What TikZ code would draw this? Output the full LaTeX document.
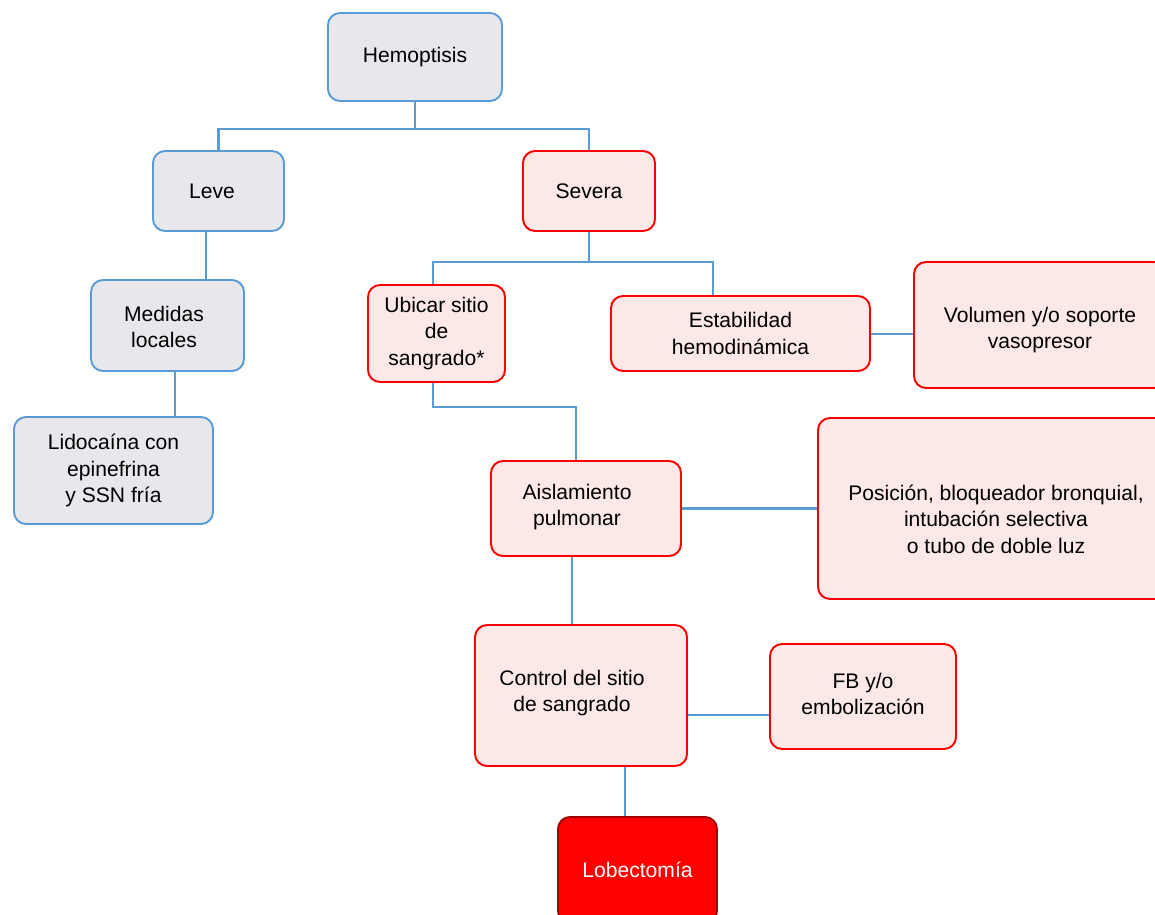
\documentclass[tikz,border=0pt]{standalone}
\usepackage{fontspec}
\setmainfont{Liberation Sans}
\definecolor{bline}{HTML}{5B9BD5}
\definecolor{gfill}{HTML}{E7E8EC}
\definecolor{rline}{HTML}{FF0000}
\definecolor{pfill}{HTML}{FDE8E8}
\definecolor{dred}{HTML}{A00000}
\begin{document}
\begin{tikzpicture}[x=0.02cm,y=-0.02cm,
  base/.style={rectangle,rounded corners=0.24cm,line width=1.1pt,align=center,inner sep=0pt,
    font=\fontsize{12}{15}\selectfont},
  gbox/.style={base,draw=bline,fill=gfill},
  rbox/.style={base,draw=rline,fill=pfill},
  lbox/.style={base,draw=dred,fill=rline,text=white},
  txt/.style={align=center,inner sep=0pt,font=\fontsize{12}{15}\selectfont},
  conn/.style={draw=bline,line width=1.2pt}]
\useasboundingbox (0,0) rectangle (1155,915);
\clip (0,0) rectangle (1155,915);
\node[gbox,minimum width=174*0.02cm,minimum height=88*0.02cm] (hemo) at (415,57) {Hemoptisis};
\node[gbox,minimum width=131*0.02cm,minimum height=80*0.02cm] (leve) at (218.5,191) {};
\node[txt] (levet) at (212,191) {Leve};
\node[rbox,minimum width=132*0.02cm,minimum height=80*0.02cm] (severa) at (589,191) {Severa};
\node[gbox,minimum width=153*0.02cm,minimum height=91*0.02cm] (medidas) at (167.5,325.5) {};
\node[txt] (medidast) at (164,327) {Medidas\\locales};
\node[gbox,minimum width=199*0.02cm,minimum height=107*0.02cm] (lido) at (113.5,470.5) {Lidocaína con\\epinefrina\\y SSN fría};
\node[rbox,minimum width=137*0.02cm,minimum height=97*0.02cm] (ubicar) at (436.5,333.5) {Ubicar sitio\\de\\sangrado*};
\node[rbox,minimum width=259*0.02cm,minimum height=75*0.02cm] (estab) at (740.5,333.5) {Estabilidad\\hemodinámica};
\node[rbox,minimum width=252*0.02cm,minimum height=126*0.02cm] (vol) at (1040,325) {};
\node[txt] (volt) at (1040,330) {Volumen y/o soporte\\vasopresor};
\node[rbox,minimum width=190*0.02cm,minimum height=95*0.02cm] (aisl) at (586,508.5) {};
\node[txt] (aislt) at (577,507) {Aislamiento\\pulmonar};
\node[rbox,minimum width=356*0.02cm,minimum height=181*0.02cm] (pos) at (996,508.5) {};
\node[txt] (post) at (996,519) {Posición, bloqueador bronquial,\\intubación selectiva\\o tubo de doble luz};
\node[rbox,minimum width=212*0.02cm,minimum height=141*0.02cm] (control) at (581,695.5) {};
\node[txt] (controlt) at (572,693) {Control del sitio\\de sangrado};
\node[rbox,minimum width=186*0.02cm,minimum height=105*0.02cm] (fb) at (863,696.5) {};
\node[txt] (fbt) at (863,694) {FB y/o\\embolización};
\node[lbox,minimum width=159*0.02cm,minimum height=106*0.02cm] (lobe) at (637.5,870) {Lobectomía};
\coordinate (j1) at (415,129);
\coordinate (j2) at (589,262);
\coordinate (j3) at (576,407);
\coordinate (mx) at (206,0);
\coordinate (lx1) at (175,0);
\coordinate (ex) at (713,0);
\coordinate (ux) at (433,0);
\coordinate (cx) at (572,0);
\coordinate (fy) at (0,715);
\coordinate (ly) at (0,334);
\coordinate (lox) at (625,0);
\draw[conn] (hemo.south) -- (j1);
\draw[conn] (leve.north) |- (j1) -| (severa.north);
\draw[conn] (leve.south -| mx) -- (medidas.north -| mx);
\draw[conn] (medidas.south -| lx1) -- (lido.north -| lx1);
\draw[conn] (severa.south) -- (j2);
\draw[conn] (ubicar.north -| ux) |- (j2) -| (estab.north -| ex);
\draw[conn] (estab.east |- ly) -- (vol.west |- ly);
\draw[conn] (ubicar.south -| ux) |- (j3) -- (aisl.north -| j3);
\draw[conn] (aisl.east) -- (pos.west);
\draw[conn] (aisl.south -| cx) -- (control.north -| cx);
\draw[conn] (control.east |- fy) -- (fb.west |- fy);
\draw[conn] (control.south -| lox) -- (lobe.north -| lox);
\end{tikzpicture}
\end{document}
